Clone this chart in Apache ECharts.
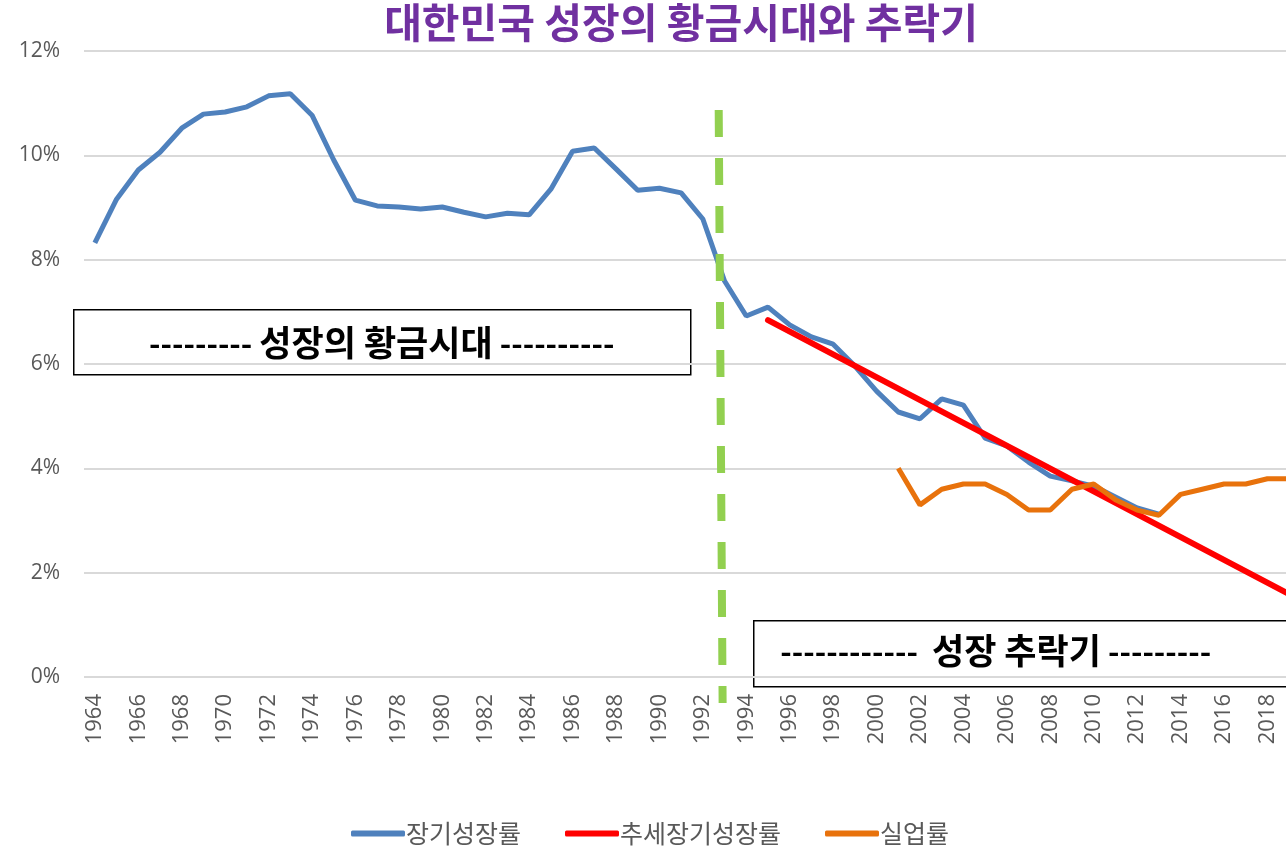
<!DOCTYPE html>
<html>
<head>
<meta charset="utf-8">
<script src="https://cdn.jsdelivr.net/npm/echarts@6/dist/echarts.min.js"></script>
<style>
  html, body { margin: 0; padding: 0; background: #fff; overflow: hidden; }
  #chart { width: 1300px; height: 851px; }
</style>
</head>
<body>
<div id="chart"></div>
<script>
// 연도 (1964 ~ 2019)
const years = [];
for (let y = 1964; y <= 2019; y++) years.push(String(y));

// 장기성장률 (%)
const longGrowth = [
  8.32, 9.16, 9.72, 10.06, 10.52, 10.79, 10.83, 10.93, 11.14, 11.18,
  10.77, 9.91, 9.14, 9.03, 9.01, 8.97, 9.01, 8.91, 8.82, 8.89,
  8.86, 9.35, 10.08, 10.14, 9.74, 9.33, 9.37, 9.28, 8.78, 7.59,
  6.92, 7.09, 6.75, 6.52, 6.38, 5.96, 5.48, 5.08, 4.95, 5.33,
  5.21, 4.58, 4.43, 4.12, 3.85, 3.76, 3.66, 3.45, 3.24, 3.12,
  null, null, null, null, null, null
];

// 추세장기성장률: 1995년 시작점과 2019년 끝점 (직선)
const trendStart = { year: '1995', value: 6.84 };
const trendEnd = { year: '2019', value: 1.59 };

// 실업률 (%), 2001 ~ 2019
const unempYears = ['2001','2002','2003','2004','2005','2006','2007','2008','2009','2010',
  '2011','2012','2013','2014','2015','2016','2017','2018','2019'];
const unemp = [4.0, 3.3, 3.6, 3.7, 3.7, 3.5, 3.2, 3.2, 3.6, 3.7,
  3.4, 3.2, 3.1, 3.5, 3.6, 3.7, 3.7, 3.8, 3.8];

// 구분선 (1992~1993 사이, 연도 인덱스 기준, 약간 기울어짐)
const dividerTop = [28.73, 10.87];
const dividerBottom = [28.91, -0.5];

const yTicks = [0, 2, 4, 6, 8, 10, 12];

const trendData = years.map(y => y === trendStart.year ? trendStart.value : (y === trendEnd.year ? trendEnd.value : null));
const unempData = years.map(y => {
  const i = unempYears.indexOf(y);
  return i >= 0 ? unemp[i] : null;
});

const chart = echarts.init(document.getElementById('chart'));
const cjk = '"Noto Sans CJK KR", "Noto Sans", sans-serif';
const num = '"Open Sans", "Noto Sans", sans-serif';

function boxText(dashL, label, dashR) {
  return '{d|' + dashL + '}{h|' + label + '}{d|' + dashR + '}';
}
const boxRich = {
  d: { fontFamily: cjk, fontSize: 31, fontWeight: 'bold', color: '#000' },
  h: { fontFamily: cjk, fontSize: 35, fontWeight: 'bold', color: '#000' }
};

chart.setOption({
  animation: false,
  title: {
    text: '대한민국 성장의 황금시대와 추락기',
    left: 676, textAlign: 'center', top: -3,
    textStyle: { fontFamily: cjk, fontSize: 41, fontWeight: 'bold', color: '#7030a0' }
  },
  grid: { left: 84, right: 0, top: 51, bottom: 174 },
  legend: {
    bottom: 0, left: 'center',
    itemWidth: 54, itemHeight: 6, itemGap: 44,
    icon: 'roundRect',
    textStyle: { fontFamily: cjk, fontSize: 25, color: '#595959', padding: [0, 0, 0, -4] },
    data: ['장기성장률', '추세장기성장률', '실업률']
  },
  xAxis: [
    {
      type: 'category',
      data: years,
      axisLine: { show: false },
      axisTick: { show: false },
      axisLabel: {
        interval: 1, rotate: 90, margin: 17,
        fontFamily: num, fontSize: 22, color: '#595959'
      }
    },
    {
      // 구분선용 숨김 축 (카테고리 인덱스와 같은 눈금)
      type: 'value', show: false,
      min: -0.5, max: years.length - 0.5
    }
  ],
  yAxis: {
    type: 'value',
    min: yTicks[0], max: yTicks[yTicks.length - 1], interval: 2,
    axisLine: { show: false },
    axisTick: { show: false },
    axisLabel: {
      margin: 24, fontFamily: num, fontSize: 21, color: '#595959',
      formatter: v => v + '%'
    },
    splitLine: { lineStyle: { color: '#d9d9d9', width: 2 } }
  },
  series: [
    {
      name: '장기성장률', type: 'line', data: longGrowth,
      showSymbol: false, symbol: 'none',
      lineStyle: { color: '#4f81bd', width: 5 }, itemStyle: { color: '#4f81bd' },
      z: 3
    },
    {
      name: '추세장기성장률', type: 'line', data: trendData, connectNulls: true,
      showSymbol: false, symbol: 'none',
      lineStyle: { color: '#ff0000', width: 6, cap: 'round' }, itemStyle: { color: '#ff0000' },
      z: 4
    },
    {
      name: '실업률', type: 'line', data: unempData,
      showSymbol: false, symbol: 'none',
      lineStyle: { color: '#e8720c', width: 5 }, itemStyle: { color: '#e8720c' },
      z: 5
    },
    {
      name: 'divider', type: 'line', xAxisIndex: 1, clip: false, silent: true,
      data: [dividerTop, dividerBottom],
      showSymbol: false, symbol: 'none',
      lineStyle: { color: '#92d050', width: 8, type: [27, 21] },
      z: 6
    }
  ],
  graphic: [
    {
      type: 'group', left: 73, top: 309,
      children: [
        { type: 'rect', shape: { x: 0, y: 0, width: 617, height: 65 },
          style: { fill: '#fff', stroke: '#000', lineWidth: 1.5 } },
        { type: 'text', x: 308, y: 33,
          style: { text: boxText('--------- ', '성장의 황금시대', ' ----------'), rich: boxRich,
            align: 'center', verticalAlign: 'middle' } }
      ],
      z: 10
    },
    {
      type: 'group', left: 753, top: 620,
      children: [
        { type: 'rect', shape: { x: 0, y: 0, width: 560, height: 66 },
          style: { fill: '#fff', stroke: '#000', lineWidth: 1.5 } },
        { type: 'text', x: 242, y: 30,
          style: { text: boxText('------------  ', '성장 추락기', ' ---------'), rich: boxRich,
            align: 'center', verticalAlign: 'middle' } }
      ],
      z: 10
    }
  ]
});
</script>
</body>
</html>
